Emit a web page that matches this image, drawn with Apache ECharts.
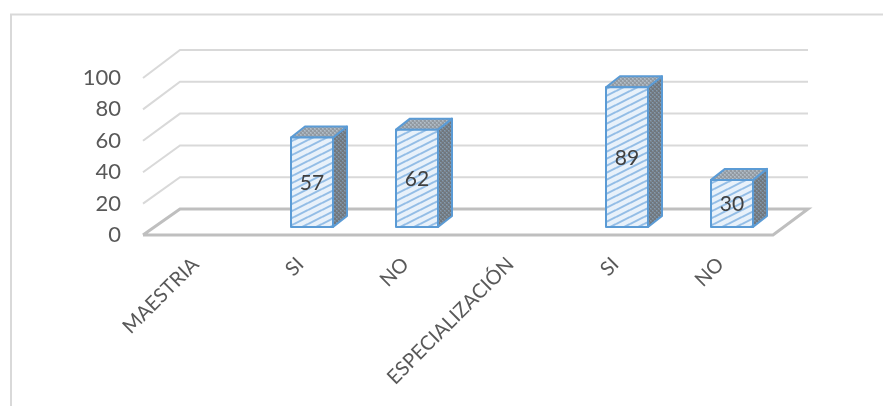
<!DOCTYPE html>
<html><head><meta charset="utf-8">
<style>html,body{margin:0;padding:0;background:#fff}#c{width:883px;height:406px}</style>
<script src="https://cdn.jsdelivr.net/npm/echarts@6/dist/echarts.min.js"></script>
</head><body><div id="c"></div>
<script>
const categories = ['MAESTRIA','SI','NO','ESPECIALIZACIÓN','SI','NO'];
const values = [null,57,62,null,89,30];
const tickValues = [0,20,40,60,80,100];

const FONT = 'Lato';
const WALL = [37,-26];      // floor depth in pixels
const WALL_TOP_EXTRA = -2;  // back wall is a little taller than the front scale
const BAR_SHIFT = [11.5,-8]; // bar position inside floor depth
const BAR_DEPTH = [14,-11];
const BAR_W = 42;

function tile(w,h,draw){const c=document.createElement('canvas');c.width=w;c.height=h;draw(c.getContext('2d'),w,h);return c;}
const frontTile = tile(14,7,(g,w,h)=>{
  g.fillStyle='#e8f1fa';g.fillRect(0,0,w,h);
  g.strokeStyle='#93bde6';g.lineWidth=2;
  for(const d of [-h,0,h]){g.beginPath();g.moveTo(0,h+d);g.lineTo(w,d);g.stroke();}
});
function dots(bg,fg,alt){return tile(4,4,(g,w,h)=>{
  g.fillStyle=bg;g.fillRect(0,0,w,h);
  g.fillStyle=fg;g.fillRect(0,0,2,2);g.fillRect(2,2,2,2);
  g.fillStyle=alt;g.fillRect(2,0,1,1);g.fillRect(0,2,1,1);
});}
const sideTile = dots('#7d8790','#6f777f','#7f9ab3');
const topTile = dots('#a6aeb6','#929aa2','#b0bfcc');

function shift(p,d){return [p[0]+d[0],p[1]+d[1]];}

function renderWall(params,api){
  const v=api.value(0);
  const cs=params.coordSys;
  const yPix=api.coord([0,v])[1];
  const L=[cs.x,yPix],R=[cs.x+cs.width,yPix];
  const dy=WALL[1]+WALL_TOP_EXTRA*v/100;
  const BL=[L[0]+WALL[0],L[1]+dy],BR=[R[0]+WALL[0]-2,L[1]+dy];
  if(v===0){
    return {type:'polyline',shape:{points:[L,BL,BR,R,L]},
      style:{fill:null,stroke:'#bfbfbf',lineWidth:3},silent:true};
  }
  return {type:'polyline',shape:{points:[L,BL,BR]},
    style:{fill:null,stroke:'#d9d9d9',lineWidth:2},silent:true};
}

function renderBar(params,api){
  const val=api.value(1);
  if(isNaN(val))return;
  const base=api.coord([api.value(0),0]);
  const top=api.coord([api.value(0),val]);
  const x0=base[0]+BAR_SHIFT[0]-BAR_W/2,x1=x0+BAR_W;
  const y0=base[1]+BAR_SHIFT[1],y1=top[1]+BAR_SHIFT[1];
  const d=BAR_DEPTH;
  const edge={stroke:'#5b9bd5',lineWidth:2,lineJoin:'round'};
  return {type:'group',children:[
    {type:'polygon',shape:{points:[[x1,y1],shift([x1,y1],d),shift([x1,y0],d),[x1,y0]]},
      style:{fill:{image:sideTile,repeat:'repeat'},...edge}},
    {type:'polygon',shape:{points:[[x0,y1],shift([x0,y1],d),shift([x1,y1],d),[x1,y1]]},
      style:{fill:{image:topTile,repeat:'repeat'},...edge}},
    {type:'rect',shape:{x:x0,y:y1,width:BAR_W,height:y0-y1},
      style:{fill:{image:frontTile,repeat:'repeat'},...edge}},
    {type:'text',x:(x0+x1)/2,y:(y0+y1)/2+1,
      style:{text:String(val),fill:'#404040',font:'21px '+FONT,align:'center',verticalAlign:'middle'}}
  ]};
}

const chart=echarts.init(document.getElementById('c'),null,{renderer:'canvas'});
chart.setOption({
  animation:false,
  backgroundColor:'#fff',
  grid:{left:143,right:110,top:78,bottom:171,containLabel:false},
  xAxis:{type:'category',data:categories,
    axisLine:{show:false},axisTick:{show:false},splitLine:{show:false},
    axisLabel:{rotate:45,interval:0,margin:26,fontFamily:FONT,fontSize:20,color:'#595959'}},
  yAxis:{type:'value',min:0,max:100,interval:20,
    axisLine:{show:false},axisTick:{show:false},splitLine:{show:false},
    axisLabel:{margin:22,fontFamily:FONT,fontSize:22,color:'#595959',padding:[5,0,0,0]}},
  graphic:[{type:'polyline',silent:true,shape:{points:[[11,406],[11,14.5],[883,14.5]]},
    style:{fill:null,stroke:'#d9d9d9',lineWidth:2}}],
  series:[
    {type:'custom',coordinateSystem:'cartesian2d',silent:true,clip:false,z:1,
     renderItem:renderWall,encode:{y:0},data:tickValues.map(v=>[v])},
    {type:'custom',coordinateSystem:'cartesian2d',silent:true,clip:false,z:2,
     renderItem:renderBar,encode:{x:0,y:1},
     data:values.map((v,i)=>[i,v===null?NaN:v])}
  ]
});
</script></body></html>
